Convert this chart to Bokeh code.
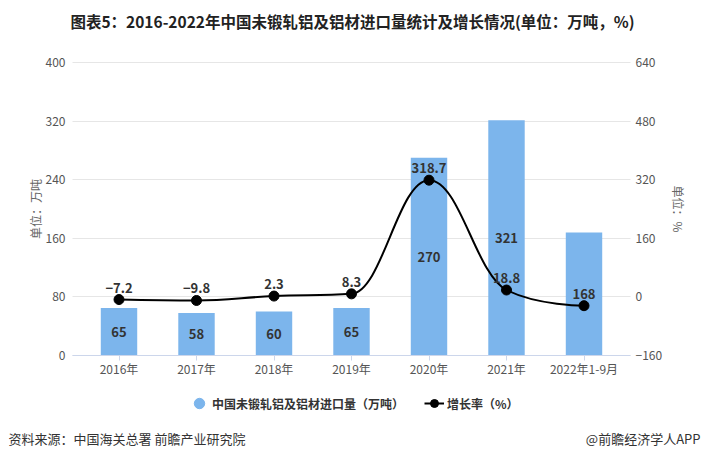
import math
from bokeh.plotting import figure
from bokeh.models import (Range1d, LinearAxis, FixedTicker, Label, Legend, LegendItem,
                          ColumnDataSource)
from bokeh.core.properties import value
from bokeh.embed import file_html
from bokeh.resources import INLINE

# ---------------- data ----------------
categories = ["2016年", "2017年", "2018年", "2019年", "2020年", "2021年", "2022年1-9月"]
import_volume = [65, 58, 60, 65, 270, 321, 168]           # 万吨
growth_rate = [-7.2, -9.8, 2.3, 8.3, 318.7, 18.8, -24.0]   # %
growth_labels = ["−7.2", "−9.8", "2.3", "8.3", "318.7", "18.8", ""]
left_ticks = [0, 80, 160, 240, 320, 400]
right_ticks = [-160, 0, 160, 320, 480, 640]

title_text = "图表5：2016-2022年中国未锻轧铝及铝材进口量统计及增长情况(单位：万吨，%)"
source_text = "资料来源：中国海关总署 前瞻产业研究院"
brand_text = "@前瞻经济学人APP"
bar_name = "中国未锻轧铝及铝材进口量（万吨）"
line_name = "增长率（%）"

FONT = "Noto Sans CJK SC"
BAR_COLOR = "#7cb5ec"

# ---------------- layout (pixels) ----------------
W, H = 706, 459
PX_L, PX_R, PX_T, PX_B = 72, 630, 62, 355      # plot area inside the canvas
n = len(categories)
XL, XR = -0.6, n - 0.4                          # category axis extent
YL0, YL1 = left_ticks[0], left_ticks[-1]
YR0, YR1 = right_ticks[0], right_ticks[-1]

xpp = (XR - XL) / (PX_R - PX_L)
ypp_l = (YL1 - YL0) / (PX_B - PX_T)
ypp_r = (YR1 - YR0) / (PX_B - PX_T)

p = figure(width=W, height=H, output_backend="svg", toolbar_location=None,
           x_range=Range1d(XL - PX_L * xpp, XR + (W - PX_R) * xpp),
           y_range=Range1d(YL0 - (H - PX_B) * ypp_l, YL1 + PX_T * ypp_l),
           min_border=0, min_border_left=0, min_border_right=0,
           min_border_top=0, min_border_bottom=0)
p.outline_line_color = None
p.extra_y_ranges = {"pct": Range1d(YR0 - (H - PX_B) * ypp_r, YR1 + PX_T * ypp_r)}

xs = list(range(n))

# ---- axes (fixed at the plot-area edges) ----
xa = p.xaxis[0]
xa.fixed_location = YL0
xa.bounds = (XL, XR)
xa.ticker = FixedTicker(ticks=xs)
xa.major_label_overrides = {i: c for i, c in zip(xs, categories)}
xa.axis_line_color = "#ccd6eb"
xa.major_tick_line_color = "#ccd6eb"
xa.major_tick_out = 5
xa.major_tick_in = 0
xa.minor_tick_line_color = None
xa.major_label_text_font = FONT
xa.major_label_text_font_size = "12px"
xa.major_label_text_color = "#555555"
xa.major_label_standoff = -1

ya = p.yaxis[0]
ya.fixed_location = XL
ya.bounds = (YL0, YL1)
ya.ticker = FixedTicker(ticks=left_ticks)
ya.axis_line_color = None
ya.major_tick_line_color = None
ya.major_tick_out = 0
ya.major_tick_in = 0
ya.minor_tick_line_color = None
ya.major_label_text_font = FONT
ya.major_label_text_font_size = "12px"
ya.major_label_text_color = "#555555"
ya.major_label_standoff = 7
ya.axis_label = "单位：万吨"
ya.axis_label_text_font = FONT
ya.axis_label_text_font_size = "12px"
ya.axis_label_text_font_style = "normal"
ya.axis_label_text_color = "#666666"
ya.axis_label_standoff = -1

ry = LinearAxis(y_range_name="pct", ticker=FixedTicker(ticks=right_ticks),
                fixed_location=XR, bounds=(YR0, YR1))
ry.axis_line_color = None
ry.major_tick_line_color = None
ry.major_tick_out = 0
ry.major_tick_in = 0
ry.minor_tick_line_color = None
ry.major_label_text_font = FONT
ry.major_label_text_font_size = "12px"
ry.major_label_text_color = "#555555"
ry.major_label_standoff = 5
ry.axis_label = "单位：%"
ry.axis_label_text_font = FONT
ry.axis_label_text_font_size = "12px"
ry.axis_label_text_font_style = "normal"
ry.axis_label_text_color = "#666666"
ry.axis_label_standoff = 5
p.add_layout(ry, "right")

# ---- grid lines limited to the plot area ----
p.xgrid.visible = False
yg = p.ygrid[0]
yg.ticker = FixedTicker(ticks=left_ticks)
if "cross_bounds" in yg.properties():
    yg.cross_bounds = (XL, XR)
    yg.bounds = (YL0, YL1)
    yg.grid_line_color = "#e6e6e6"
else:
    yg.visible = False
    p.segment(x0=[XL] * len(left_ticks), x1=[XR] * len(left_ticks),
              y0=left_ticks, y1=left_ticks, line_color="#e6e6e6", line_width=1)

# ---- bars ----
bar_src = ColumnDataSource(dict(x=xs, top=import_volume,
                                mid=[v / 2 for v in import_volume],
                                lab=[str(v) for v in import_volume]))
p.vbar(x="x", top="top", bottom=0, width=0.47, source=bar_src,
       fill_color=BAR_COLOR, line_color=None)


def spline_controls(xv, yv, smoothing=1.5):
    """Highcharts-style spline control points, returned as bezier segments."""
    denom = smoothing + 1
    m = len(xv)
    lc = [(xv[i], yv[i]) for i in range(m)]
    rc = [(xv[i], yv[i]) for i in range(m)]
    for i in range(1, m - 1):
        px, py = xv[i], yv[i]
        lx, ly = xv[i - 1], yv[i - 1]
        nx, ny = xv[i + 1], yv[i + 1]
        lcx = (smoothing * px + lx) / denom
        lcy = (smoothing * py + ly) / denom
        rcx = (smoothing * px + nx) / denom
        rcy = (smoothing * py + ny) / denom
        corr = 0
        if rcx != lcx:
            corr = ((rcy - lcy) * (rcx - px)) / (rcx - lcx) + py - rcy
        lcy += corr
        rcy += corr
        if lcy > ly and lcy > py:
            lcy = max(ly, py); rcy = 2 * py - lcy
        elif lcy < ly and lcy < py:
            lcy = min(ly, py); rcy = 2 * py - lcy
        if rcy > ny and rcy > py:
            rcy = max(ny, py); lcy = 2 * py - rcy
        elif rcy < ny and rcy < py:
            rcy = min(ny, py); lcy = 2 * py - rcy
        lc[i] = (lcx, lcy)
        rc[i] = (rcx, rcy)
    seg = dict(x0=[], y0=[], x1=[], y1=[], cx0=[], cy0=[], cx1=[], cy1=[])
    for i in range(m - 1):
        seg["x0"].append(xv[i]); seg["y0"].append(yv[i])
        seg["x1"].append(xv[i + 1]); seg["y1"].append(yv[i + 1])
        seg["cx0"].append(rc[i][0]); seg["cy0"].append(rc[i][1])
        seg["cx1"].append(lc[i + 1][0]); seg["cy1"].append(lc[i + 1][1])
    return seg


seg_src = ColumnDataSource(spline_controls(xs, growth_rate))
p.bezier(x0="x0", y0="y0", x1="x1", y1="y1", cx0="cx0", cy0="cy0", cx1="cx1", cy1="cy1",
         source=seg_src, line_color="black", line_width=2, y_range_name="pct")

line_src = ColumnDataSource(dict(x=xs, y=growth_rate, lab=growth_labels))
p.scatter(x="x", y="y", source=line_src, marker="circle", size=10,
          fill_color="black", line_color="black", y_range_name="pct")

p.text(x="x", y="mid", text="lab", source=bar_src, text_align="center",
       text_baseline="middle", text_font=value(FONT), text_font_size="13px",
       text_font_style="bold", text_color="#333333")
p.text(x="x", y="y", text="lab", source=line_src, text_align="center",
       text_baseline="bottom", y_offset=-7, text_font=value(FONT), text_font_size="13px",
       text_font_style="bold", text_color="#333333", y_range_name="pct")

# ---- legend (proxy renderers with no visible data) ----
nan = [math.nan]
r_bar_leg = p.scatter(x=nan, y=nan, marker="circle", fill_color=BAR_COLOR,
                      line_color=BAR_COLOR)
r_line_leg = p.line(x=nan, y=nan, line_color="black", line_width=2)
r_mark_leg = p.scatter(x=nan, y=nan, marker="circle", fill_color="black",
                       line_color="black")
leg_style = dict(orientation="horizontal", border_line_color=None, background_fill_alpha=0,
                 label_text_font=FONT, label_text_font_size="12px",
                 label_text_font_style="bold", label_text_color="#333333",
                 padding=0, margin=0, spacing=0)
leg1 = Legend(items=[LegendItem(label=bar_name, renderers=[r_bar_leg])],
              location=(186, H - 416), glyph_width=26, glyph_height=26, label_standoff=0,
              **leg_style)
leg2 = Legend(items=[LegendItem(label=line_name, renderers=[r_line_leg, r_mark_leg])],
              location=(424, H - 413), glyph_width=20, glyph_height=20, label_standoff=3,
              **leg_style)
p.add_layout(leg1)
p.add_layout(leg2)

# ---- title and footer (screen units: x from left, y from bottom) ----
p.add_layout(Label(x=352, y=H - 20, x_units="screen", y_units="screen", text=title_text,
                   text_align="center", text_baseline="middle", text_font=FONT,
                   text_font_size="15.5px", text_font_style="bold", text_color="#222222"))
p.add_layout(Label(x=8, y=H - 438, x_units="screen", y_units="screen", text=source_text,
                   text_align="left", text_baseline="middle", text_font=FONT,
                   text_font_size="13px", text_color="#333333"))
p.add_layout(Label(x=700, y=H - 438, x_units="screen", y_units="screen", text=brand_text,
                   text_align="right", text_baseline="middle", text_font=FONT,
                   text_font_size="13px", text_color="#333333"))

open("out.html", "w").write(file_html(p, INLINE))
